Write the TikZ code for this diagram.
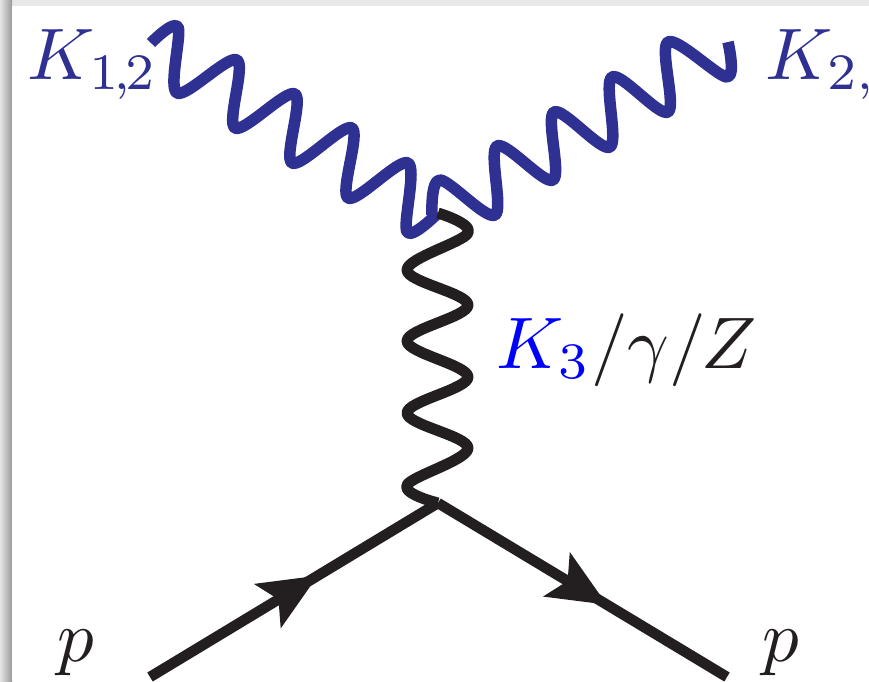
\documentclass[tikz,border=0pt]{standalone}
\usepackage{xcolor}
\usepackage{amsmath}
\usetikzlibrary{arrows.meta, decorations.markings}

\definecolor{kblue}{HTML}{2E3192}
\definecolor{kink}{HTML}{231F20}

\tikzset{
  kaon/.style={kblue, line width=11.5pt, line join=round},
  boson/.style={kink, line width=11pt, line join=round},
  fermion/.style={kink, line width=10.5pt, postaction={decorate},
    decoration={markings, mark=at position #1 with {\arrow{Stealth[length=58pt, width=50pt, inset=12pt]}}}},
  lab/.style={scale=7.3, inner sep=0pt, anchor=base west, text=kink}
}

\begin{document}
\begin{tikzpicture}[x=1pt, y=-1pt]
  \useasboundingbox (0,0) rectangle (869,681);

  % page edge and its shadow
  \fill[black!9] (0,0) rectangle (869,6);
  \shade[left color=black!10, right color=black!40] (0,0) rectangle (12,681);
  \fill[white] (12,6) rectangle (869,681);

  \coordinate (kl) at (151,43);
  \coordinate (kr) at (728,42);
  \coordinate (vtop) at (438,213);
  \coordinate (vbot) at (438,503);
  \coordinate (pin) at (150,677);
  \coordinate (pout) at (727,677);

  % the two upper wavy lines
  \draw[kaon] plot[smooth, tension=0.55] coordinates {(kl) (178,27) (177,93) (237,60) (235,128)
    (295,94) (292,163) (352,128) (348,198) (408,163) (407,232) (vtop)};
  \draw[kaon] plot[smooth, tension=0.55] coordinates {(kr) (727,77) (668,42) (668,112) (612,77)
    (610,147) (554,112) (553,180) (497,146) (495,215) (440,180) (432,215)};

  % exchanged line
  \draw[boson] plot[smooth, tension=0.6] coordinates {(vtop) (468,233) (407,270) (468,305) (407,341)
    (468,377) (407,413) (468,448) (407,485) (vbot)};

  % quark lines
  \draw[fermion=0.583] (pin) -- (vbot);
  \draw[fermion=0.585] (vbot) -- (pout);

  % labels
  \node[lab, text=kblue] (k12) at (26,79) {$K_{1\mkern-1.5mu,\mkern-1.5mu 2}$};
  \node[lab, text=kblue] (k2) at (764,79) {$K_{2,\mkern-4mu}$};
  \node[lab] (k3) at (495,368) {$\textcolor{blue}{K_3}/\gamma/Z$};
  \node[lab] (pl) at (56,661) {$p$};
  \node[lab] (pr) at (761,661) {$p$};
\end{tikzpicture}
\end{document}
